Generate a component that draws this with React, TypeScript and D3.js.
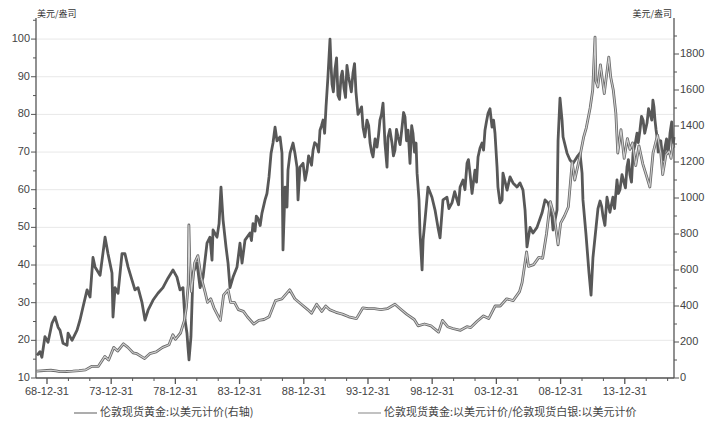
import React from 'react';
import * as d3 from 'd3';

// Gold/silver ratio (left axis) : [decimal year, value]
const ratioSeries: [number, number][] = [
  [1968.22, 16], [1968.45, 17], [1968.6, 15.5], [1968.84, 21], [1969.08, 19.5], [1969.39, 24.6], [1969.62, 26.2],
  [1969.86, 23.5], [1970.01, 22.7], [1970.25, 19.2], [1970.56, 18.7], [1970.64, 21.9], [1970.95, 20],
  [1971.34, 22.7], [1971.57, 25.4], [1971.8, 28.8], [1972.12, 33.4], [1972.35, 31.5], [1972.58, 42],
  [1972.74, 39.5], [1973.13, 37.3], [1973.52, 47.4], [1973.75, 43], [1974.06, 37.9], [1974.14, 26.2],
  [1974.3, 34], [1974.53, 32.5], [1974.84, 43], [1975.07, 43], [1975.31, 39.5], [1975.62, 36],
  [1975.85, 33.4], [1976.09, 34], [1976.4, 30], [1976.63, 25.4], [1976.87, 28], [1977.26, 30.7],
  [1977.64, 32.5], [1978.03, 34], [1978.42, 36.5], [1978.81, 38.7], [1979.12, 36.8], [1979.36, 33.4],
  [1979.59, 34], [1979.75, 25.4], [1979.9, 21.9], [1979.98, 18.2], [1980.06, 14.8], [1980.21, 20.9],
  [1980.37, 37.9], [1980.68, 40.5], [1980.92, 34], [1981.15, 36.8], [1981.46, 45.8], [1981.69, 47.4],
  [1981.85, 41.3], [1981.93, 49.3], [1982.24, 47.4], [1982.4, 51], [1982.55, 60.7], [1982.71, 52],
  [1982.94, 44.8], [1983.1, 40.5], [1983.25, 34], [1983.49, 36.8], [1983.8, 39.5], [1984.03, 45.8],
  [1984.19, 40.5], [1984.42, 46.6], [1984.81, 48.5], [1984.92, 46.5], [1985.04, 51], [1985.2, 49],
  [1985.3, 53], [1985.43, 52.4], [1985.6, 50.5], [1985.74, 53.8],
  [1985.98, 57.3], [1986.13, 59], [1986.29, 63.4], [1986.45, 69.7], [1986.6, 72.4], [1986.76, 76.6],
  [1986.91, 73], [1987.15, 74], [1987.3, 69.7], [1987.38, 44], [1987.54, 60.7], [1987.69, 55.4],
  [1987.77, 65.2], [1987.93, 69.7], [1988.16, 72.4], [1988.31, 69.7], [1988.47, 66], [1988.55, 57.3],
  [1988.7, 66], [1988.94, 67], [1989.1, 62.5], [1989.25, 65.2], [1989.37, 69], [1989.48, 68],
  [1989.6, 66.5], [1989.72, 70.5], [1989.85, 72.5], [1990.03, 71.9], [1990.15, 70],
  [1990.26, 75.8], [1990.38, 77], [1990.5, 78.5], [1990.62, 75], [1990.73, 82], [1990.88, 90],
  [1991.04, 100], [1991.12, 93], [1991.2, 88], [1991.3, 86],
  [1991.43, 92], [1991.55, 95], [1991.66, 85], [1991.78, 84], [1991.9, 90], [1992.0, 91.5],
  [1992.13, 87], [1992.25, 84.5], [1992.36, 93], [1992.48, 90], [1992.6, 88], [1992.7, 86],
  [1992.83, 91], [1992.95, 93.5], [1993.06, 86], [1993.14, 83], [1993.22, 80], [1993.37, 81],
  [1993.5, 82], [1993.61, 76.6], [1993.75, 74], [1993.92, 78.5], [1994.05, 77],
  [1994.16, 72.4], [1994.28, 70], [1994.39, 68.7], [1994.55, 73.5], [1994.7, 71.3], [1994.82, 74.5],
  [1994.93, 78.5], [1995.05, 80], [1995.17, 83], [1995.32, 72.4],
  [1995.48, 66], [1995.56, 74], [1995.7, 76], [1995.87, 72.4], [1995.98, 69], [1996.1, 70.5],
  [1996.22, 76], [1996.34, 74], [1996.5, 72], [1996.65, 76.6], [1996.77, 80.5],
  [1996.88, 79.3], [1997.0, 73], [1997.12, 75.8], [1997.27, 67], [1997.4, 77], [1997.5, 75],
  [1997.62, 70], [1997.74, 72.4], [1997.82, 64.4],
  [1997.97, 57.3], [1998.05, 48.5], [1998.21, 38.7], [1998.29, 46.6], [1998.44, 52], [1998.67, 60.7],
  [1998.98, 58], [1999.22, 54.6], [1999.45, 50], [1999.61, 47.2], [1999.84, 57.3], [2000.15, 58],
  [2000.3, 55], [2000.54, 56.5], [2000.75, 59.5], [2000.93, 57.3], [2001.05, 56], [2001.17, 60.7],
  [2001.4, 62.6], [2001.55, 60], [2001.71, 67], [2001.82, 68], [2001.94, 64.4],
  [2002.1, 59], [2002.33, 65.2], [2002.45, 62], [2002.57, 68.7], [2002.72, 71], [2002.88, 72.4],
  [2003.0, 70.5], [2003.11, 75.8], [2003.22, 78], [2003.35, 80.3], [2003.5, 81.5],
  [2003.66, 76.6], [2003.78, 78.5], [2003.89, 75], [2004.05, 66], [2004.12, 60.7], [2004.28, 56.5],
  [2004.44, 57.3], [2004.51, 64.4], [2004.83, 59.9], [2005.06, 63.4], [2005.29, 61.8], [2005.6, 60.7],
  [2005.84, 61.8], [2006.07, 59.9], [2006.23, 54.6], [2006.38, 44.8], [2006.62, 50], [2006.85, 48.5],
  [2007.16, 50], [2007.55, 53.8], [2007.79, 57.3], [2008.02, 56.5], [2008.33, 52.7], [2008.41, 49.3],
  [2008.72, 54.6], [2008.8, 73], [2008.95, 84.3], [2009.11, 78.5], [2009.19, 74], [2009.5, 69.7],
  [2009.73, 67.9], [2009.97, 67], [2010.28, 68.7], [2010.51, 69.7], [2010.67, 64.4], [2010.74, 57.3],
  [2010.98, 48], [2011.21, 38], [2011.37, 32], [2011.52, 42], [2011.76, 50], [2011.91, 55],
  [2012.07, 57], [2012.2, 55.5], [2012.3, 53], [2012.45, 50.5], [2012.61, 58], [2012.72, 56],
  [2012.84, 54], [2013.07, 58], [2013.2, 55], [2013.39, 62.6], [2013.5, 59], [2013.62, 60],
  [2013.78, 64], [2013.93, 62], [2014.05, 60.5], [2014.17, 66], [2014.28, 68], [2014.4, 64],
  [2014.52, 62], [2014.64, 69.7], [2014.8, 72], [2014.95, 75], [2015.05, 72.5], [2015.18, 75.8],
  [2015.3, 79.5], [2015.42, 78.5], [2015.55, 75], [2015.73, 77.7], [2015.85, 81.5], [2015.96, 80.3],
  [2016.1, 78.5], [2016.19, 83.8], [2016.27, 82], [2016.35, 78.5], [2016.43, 76], [2016.51, 74],
  [2016.6, 70], [2016.67, 71.3], [2016.8, 73], [2016.9, 69.7], [2017.0, 68], [2017.13, 71.3],
  [2017.25, 73.5], [2017.36, 69.7], [2017.45, 72], [2017.52, 75], [2017.65, 78], [2017.75, 71.3],
  [2017.83, 74],
];

// London spot gold, USD (right axis) : [decimal year, value]
const goldSeries: [number, number][] = [
  [1968.2, 38], [1968.5, 40], [1969.0, 42], [1969.3, 43], [1969.7, 40], [1970.0, 35], [1970.5, 36],
  [1971.0, 38], [1971.5, 41], [1972.0, 45], [1972.5, 65], [1973.0, 65], [1973.5, 120], [1973.8, 100],
  [1974.2, 170], [1974.5, 150], [1974.95, 190], [1975.3, 170], [1975.7, 140], [1976.0, 135],
  [1976.6, 108], [1977.0, 135], [1977.5, 145], [1978.0, 170], [1978.5, 185], [1978.8, 240],
  [1979.0, 215], [1979.4, 250], [1979.7, 320], [1979.85, 390], [1980.0, 520], [1980.05, 850],
  [1980.12, 640], [1980.25, 480], [1980.5, 640], [1980.75, 680], [1981.0, 560], [1981.3, 480],
  [1981.5, 420], [1981.75, 440], [1982.0, 390], [1982.5, 320], [1982.75, 460], [1983.1, 490],
  [1983.3, 420], [1983.6, 420], [1983.9, 380], [1984.3, 370], [1984.6, 340], [1985.1, 300],
  [1985.5, 320], [1985.9, 325], [1986.3, 340], [1986.8, 430], [1987.3, 440], [1987.9, 490],
  [1988.3, 440], [1988.8, 410], [1989.3, 380], [1989.6, 360], [1990.0, 410], [1990.4, 370],
  [1990.7, 400], [1991.0, 380], [1991.5, 365], [1992.0, 355], [1992.5, 340], [1993.1, 330],
  [1993.6, 390], [1994.0, 385], [1994.5, 385], [1995.0, 380], [1995.5, 385], [1996.1, 410],
  [1996.5, 385], [1997.0, 355], [1997.6, 325], [1997.9, 290], [1998.4, 300], [1998.9, 290],
  [1999.5, 255], [1999.8, 320], [2000.2, 285], [2000.6, 275], [2001.2, 265], [2001.7, 285],
  [2002.0, 280], [2002.5, 315], [2003.0, 345], [2003.4, 330], [2003.9, 400], [2004.3, 400],
  [2004.8, 440], [2005.3, 430], [2005.8, 480], [2006.0, 530], [2006.35, 700], [2006.5, 620],
  [2006.9, 630], [2007.3, 670], [2007.6, 665], [2007.9, 800], [2008.2, 980], [2008.5, 900],
  [2008.8, 740], [2009.0, 860], [2009.3, 900], [2009.6, 950], [2009.9, 1200], [2010.1, 1100],
  [2010.5, 1230], [2010.8, 1340], [2011.0, 1390], [2011.3, 1500], [2011.5, 1600], [2011.68, 1894],
  [2011.75, 1650], [2011.9, 1617], [2012.1, 1740], [2012.4, 1580], [2012.75, 1783], [2012.9, 1672],
  [2013.1, 1600], [2013.3, 1470], [2013.45, 1250], [2013.7, 1380], [2013.95, 1220], [2014.2, 1330],
  [2014.4, 1270], [2014.6, 1306], [2014.85, 1180], [2015.1, 1290], [2015.4, 1190], [2015.7, 1120],
  [2015.95, 1061], [2016.2, 1250], [2016.55, 1350], [2016.8, 1250], [2016.95, 1130], [2017.2, 1240],
  [2017.45, 1260], [2017.6, 1220], [2017.75, 1300], [2017.83, 1280],
];

const xTickYears = [1968, 1973, 1978, 1983, 1988, 1993, 1998, 2003, 2008, 2013];
const xTickLabels = ['68-12-31', '73-12-31', '78-12-31', '83-12-31', '88-12-31', '93-12-31', '98-12-31', '03-12-31', '08-12-31', '13-12-31'];
const leftTicks = [10, 20, 30, 40, 50, 60, 70, 80, 90, 100];
const rightTicks = [0, 200, 400, 600, 800, 1000, 1200, 1400, 1600, 1800];
const unitLabel = '美元/盎司';
const legendLabels = ['伦敦现货黄金:以美元计价(右轴)', '伦敦现货黄金:以美元计价/伦敦现货白银:以美元计价'];

const W = 714, H = 427;

const yd = (y: number) => {
  const yr = Math.floor(y);
  const s = Date.UTC(yr, 0, 1);
  const e = Date.UTC(yr + 1, 0, 1);
  return new Date(s + (y - yr) * (e - s));
};

export default function App() {
  const L = 36, R = 674, T = 18, B = 378;
  const x = d3.scaleUtc().domain([yd(1968.143), yd(2017.83)]).range([L, R]);
  const yL = d3.scaleLinear().domain([10, 105.6]).range([B, T]);
  const yR = d3.scaleLinear().domain([0, 2000]).range([B, T]);
  const lineL = d3.line<[number, number]>().x(d => x(yd(d[0]))).y(d => yL(d[1]));
  const lineR = d3.line<[number, number]>().x(d => x(yd(d[0]))).y(d => yR(d[1]));
  const majorDates = xTickYears.map(y => new Date(Date.UTC(y, 11, 31)));
  const minorX: number[] = [];
  for (let k = -3; k < 40; k++) {
    if (k % 3 === 0) continue;
    const d = yd(1969 + (k * 5) / 3);
    const px = x(d);
    if (px >= L && px <= R) minorX.push(px);
  }
  const leftMinor = leftTicks.map(v => v + 5).filter(v => v <= 105);
  const rightMinor = rightTicks.map(v => v + 100).filter(v => v <= 1950);
  const axisColor = '#555';
  const textColor = '#444';
  const font = 'Liberation Sans, Arial, sans-serif';
  const cjk = '"Noto Sans CJK SC", sans-serif';

  return (
    <svg width={W} height={H} style={{ position: 'absolute', left: 0, top: 0, background: '#fff' }}>
      <rect x={0} y={0} width={W} height={H} fill="#fff" />
      {leftTicks.map(v => (
        <line key={'g' + v} x1={L} x2={R} y1={yL(v)} y2={yL(v)} stroke="#e8e8e8" strokeWidth={1} />
      ))}
      <path d={lineL(ratioSeries) || ''} fill="none" stroke="#585858" strokeWidth={2.8} strokeLinejoin="round" />
      <path d={lineR(goldSeries) || ''} fill="none" stroke="#6a6a6a" strokeWidth={2.8} strokeLinejoin="round" />
      <path d={lineR(goldSeries) || ''} fill="none" stroke="#cfcfcf" strokeWidth={1.1} strokeLinejoin="round" />
      <line x1={L} x2={L} y1={T} y2={B} stroke={axisColor} strokeWidth={1.3} />
      <line x1={R} x2={R} y1={T} y2={B} stroke={axisColor} strokeWidth={1.3} />
      <line x1={L} x2={R} y1={B} y2={B} stroke={axisColor} strokeWidth={1.6} />
      {leftTicks.map(v => (
        <g key={'l' + v}>
          <line x1={L - 5} x2={L} y1={yL(v)} y2={yL(v)} stroke={axisColor} />
          <text x={L - 6} y={yL(v)} textAnchor="end" dominantBaseline="middle" fontSize={11} fontFamily={font} fill={textColor}>{v}</text>
        </g>
      ))}
      {leftMinor.map(v => (
        <line key={'lm' + v} x1={L - 3} x2={L} y1={yL(v)} y2={yL(v)} stroke={axisColor} />
      ))}
      {rightTicks.map(v => (
        <g key={'r' + v}>
          <line x1={R} x2={R + 5} y1={yR(v)} y2={yR(v)} stroke={axisColor} />
          <text x={R + 6} y={yR(v)} textAnchor="start" dominantBaseline="middle" fontSize={11} fontFamily={font} fill={textColor}>{v}</text>
        </g>
      ))}
      {rightMinor.map(v => (
        <line key={'rm' + v} x1={R} x2={R + 3} y1={yR(v)} y2={yR(v)} stroke={axisColor} />
      ))}
      {majorDates.map((d, i) => (
        <g key={'x' + i}>
          <line x1={x(d)} x2={x(d)} y1={B} y2={B + 6} stroke={axisColor} strokeWidth={1.3} />
          <text x={x(d)} y={B + 14} textAnchor="middle" dominantBaseline="middle" fontSize={11} fontFamily={font} fill={textColor}>{xTickLabels[i]}</text>
        </g>
      ))}
      {minorX.map((px, i) => (
        <line key={'xm' + i} x1={px} x2={px} y1={B} y2={B + 3} stroke={axisColor} />
      ))}
      <text x={L + 1} y={15} fontSize={9} fontFamily={cjk} fill="#333" dominantBaseline="middle">{unitLabel}</text>
      <text x={R - 2} y={15} fontSize={9} fontFamily={cjk} fill="#333" textAnchor="end" dominantBaseline="middle">{unitLabel}</text>
      <line x1={74} x2={97} y1={413} y2={413} stroke="#777" strokeWidth={1.2} />
      <text x={100} y={413} fontSize={11} fontFamily={cjk} fill={textColor} dominantBaseline="middle">{legendLabels[0]}</text>
      <line x1={358} x2={381} y1={413} y2={413} stroke="#999" strokeWidth={1.2} />
      <text x={384} y={413} fontSize={11} fontFamily={cjk} fill={textColor} dominantBaseline="middle">{legendLabels[1]}</text>
    </svg>
  );
}
